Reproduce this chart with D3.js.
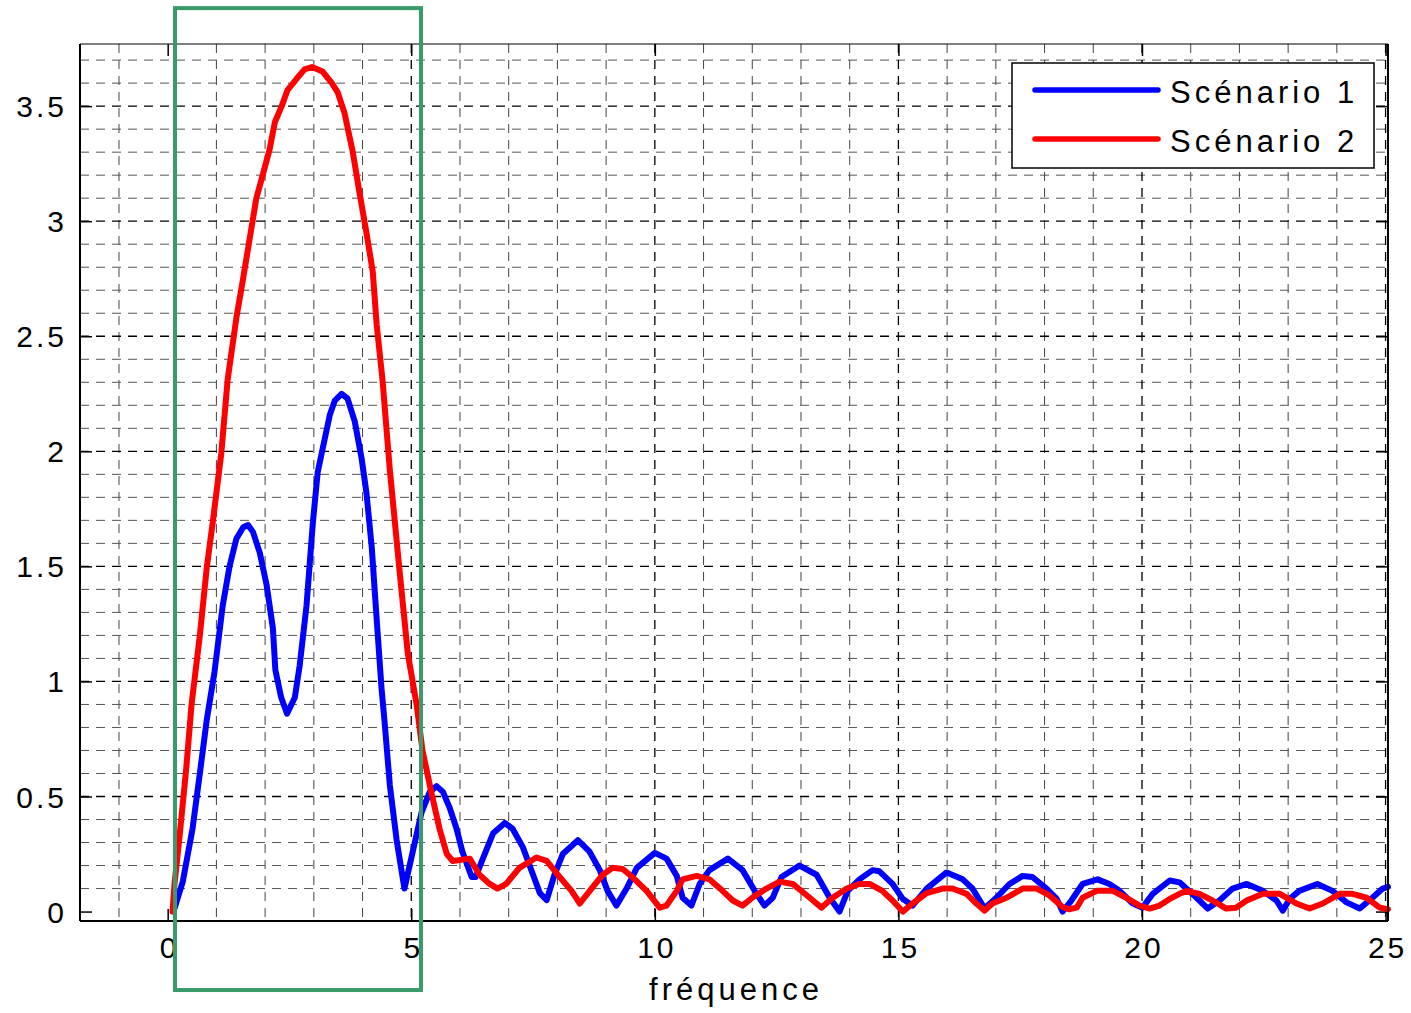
<!DOCTYPE html>
<html>
<head>
<meta charset="utf-8">
<script src="https://cdn.jsdelivr.net/npm/d3@7/dist/d3.min.js"></script>
<style>
  body { margin: 0; background: #fff; }
  text { font-family: "Liberation Sans", Arial, Helvetica, sans-serif; fill: #000; }
</style>
</head>
<body>
<div id="chart"></div>
<script>
// Scenario 1 (blue)
const freq1 = [0.12,0.31,0.51,0.66,0.8,0.96,1.13,1.27,1.41,1.55,1.65,1.75,1.89,2.03,2.16,2.21,2.33,2.45,2.61,2.71,2.85,2.98,3.08,3.19,3.33,3.43,3.57,3.69,3.84,3.98,4.08,4.19,4.29,4.39,4.45,4.56,4.7,4.86,5.03,5.21,5.38,5.52,5.65,5.79,5.93,6.05,6.24,6.32,6.47,6.68,6.92,7.08,7.29,7.5,7.64,7.78,7.94,8.11,8.42,8.66,8.87,9.03,9.21,9.42,9.63,10.0,10.24,10.45,10.57,10.75,10.92,11.12,11.5,11.8,12.05,12.25,12.42,12.6,12.97,13.32,13.59,13.79,13.96,14.2,14.47,14.61,14.88,15.09,15.29,15.58,15.99,16.32,16.52,16.77,17.01,17.28,17.55,17.75,18.04,18.25,18.37,18.55,18.78,19.09,19.33,19.54,19.81,20.01,20.22,20.57,20.77,21.12,21.35,21.59,21.86,22.15,22.48,22.76,22.89,23.03,23.23,23.6,23.91,24.2,24.47,24.73,24.94,25.05];
const amp1 = [0,0.13,0.36,0.6,0.83,1.04,1.33,1.5,1.62,1.67,1.68,1.65,1.56,1.42,1.23,1.05,0.93,0.86,0.93,1.07,1.33,1.69,1.91,2.02,2.16,2.22,2.25,2.23,2.13,1.97,1.82,1.58,1.27,0.97,0.83,0.55,0.31,0.1,0.26,0.43,0.52,0.545,0.52,0.45,0.36,0.26,0.15,0.15,0.23,0.34,0.385,0.36,0.28,0.16,0.08,0.05,0.16,0.25,0.31,0.26,0.18,0.09,0.026,0.1,0.19,0.255,0.23,0.155,0.06,0.026,0.12,0.18,0.23,0.18,0.09,0.026,0.06,0.15,0.2,0.16,0.06,0,0.09,0.14,0.18,0.175,0.12,0.055,0.026,0.1,0.17,0.14,0.1,0.013,0.06,0.12,0.155,0.15,0.1,0.055,0,0.048,0.12,0.14,0.12,0.09,0.035,0.017,0.077,0.135,0.127,0.06,0.013,0.048,0.1,0.12,0.09,0.048,0.004,0.055,0.09,0.12,0.09,0.04,0.013,0.06,0.1,0.107];

// Scenario 2 (red)
const freq2 = [0.1,0.14,0.25,0.38,0.49,0.66,0.8,0.93,1.1,1.23,1.41,1.54,1.68,1.82,1.95,2.09,2.2,2.34,2.46,2.65,2.81,2.96,3.18,3.37,3.49,3.63,3.8,3.94,4.08,4.21,4.29,4.41,4.56,4.76,4.93,5.11,5.23,5.42,5.58,5.73,5.85,6.2,6.4,6.61,6.77,6.95,7.22,7.57,7.78,8.05,8.29,8.46,8.7,8.93,9.13,9.34,9.54,9.83,10.1,10.24,10.45,10.57,10.86,11.12,11.39,11.6,11.8,12.0,12.29,12.56,12.83,13.18,13.42,13.65,13.94,14.2,14.41,14.67,14.88,15.09,15.29,15.58,15.91,16.11,16.4,16.6,16.77,16.93,17.22,17.55,17.84,18.1,18.37,18.5,18.66,18.78,19.07,19.4,19.68,19.95,20.16,20.36,20.57,20.77,20.92,21.18,21.45,21.73,21.93,22.15,22.48,22.83,23.17,23.44,23.71,24.06,24.32,24.61,24.88,25.05];
const amp2 = [0,0.12,0.34,0.62,0.9,1.2,1.49,1.7,1.99,2.31,2.58,2.74,2.92,3.1,3.2,3.31,3.43,3.5,3.57,3.62,3.66,3.67,3.65,3.6,3.56,3.47,3.3,3.12,2.95,2.78,2.55,2.31,1.92,1.48,1.12,0.9,0.7,0.51,0.36,0.25,0.22,0.23,0.16,0.12,0.1,0.12,0.19,0.235,0.22,0.15,0.09,0.035,0.1,0.16,0.19,0.185,0.15,0.09,0.017,0.026,0.09,0.14,0.155,0.14,0.09,0.048,0.026,0.06,0.1,0.13,0.12,0.06,0.017,0.06,0.1,0.12,0.12,0.09,0.048,0,0.035,0.08,0.1,0.1,0.077,0.035,0.004,0.035,0.06,0.1,0.1,0.07,0.02,0.01,0.017,0.06,0.09,0.09,0.06,0.026,0.013,0.026,0.055,0.077,0.09,0.077,0.048,0.013,0.017,0.048,0.077,0.077,0.035,0.013,0.035,0.077,0.077,0.06,0.017,0.01];

const seriesNames = ['Scénario 1', 'Scénario 2'];
const seriesColors = ['#0000ff', '#ff0000'];
const xTicks = [0, 5, 10, 15, 20, 25];
const yTicks = [0, 0.5, 1, 1.5, 2, 2.5, 3, 3.5];
const xLabel = 'fréquence';
// highlighted band (green frame), in data units
const bandFreq = [0.15, 5.2];
const bandAmp = [-0.341, 3.926];

const margin = {top: 44, right: 23, bottom: 92, left: 80};
const W = 1411, H = 1013;
const width = W - margin.left - margin.right;
const height = H - margin.top - margin.bottom;

const svg = d3.select('#chart').append('svg')
    .attr('width', W).attr('height', H);
const g = svg.append('g')
    .attr('transform', `translate(${margin.left},${margin.top})`);

const x = d3.scaleLinear().domain([-1.8, 25.05]).range([0, width]);
const y = d3.scaleLinear().domain([-0.041, 3.77]).range([height, 0]);

// grid: minor every 1 on x, every 0.1 on y; major at the ticks (none at 0)
const xMinor = d3.range(-1, 26).filter(v => v % 5 !== 0);
const yMinor = d3.range(1, 38).map(v => v / 10).filter(v => Math.round(v * 10) % 5 !== 0);
const xMajor = xTicks.filter(v => v !== 0);
const yMajor = yTicks.filter(v => v !== 0);

const grid = g.append('g').attr('class', 'grid');
grid.selectAll('.xminor').data(xMinor).enter().append('line')
    .attr('x1', d => x(d)).attr('x2', d => x(d)).attr('y1', 0).attr('y2', height)
    .attr('stroke', '#444').attr('stroke-width', 1).attr('stroke-dasharray', '9,7');
grid.selectAll('.yminor').data(yMinor).enter().append('line')
    .attr('y1', d => y(d)).attr('y2', d => y(d)).attr('x1', 0).attr('x2', width)
    .attr('stroke', '#555').attr('stroke-width', 1).attr('stroke-dasharray', '9,7');
grid.selectAll('.xmajor').data(xMajor).enter().append('line')
    .attr('x1', d => x(d)).attr('x2', d => x(d)).attr('y1', 0).attr('y2', height)
    .attr('stroke', '#000').attr('stroke-width', 1.3).attr('stroke-dasharray', '9,7');
grid.selectAll('.ymajor').data(yMajor).enter().append('line')
    .attr('y1', d => y(d)).attr('y2', d => y(d)).attr('x1', 0).attr('x2', width)
    .attr('stroke', '#000').attr('stroke-width', 1.3).attr('stroke-dasharray', '9,7');

// axes with inward ticks on all four sides
const tickLen = 12;
const fmt = d3.format('~g');
const axB = g.append('g').attr('transform', `translate(0,${height})`)
    .call(d3.axisBottom(x).tickValues(xTicks).tickSize(-tickLen).tickSizeOuter(0).tickFormat(fmt));
const axL = g.append('g')
    .call(d3.axisLeft(y).tickValues(yTicks).tickSize(-tickLen).tickSizeOuter(0).tickFormat(fmt));
g.append('g')
    .call(d3.axisTop(x).tickValues(xTicks).tickSize(-tickLen).tickSizeOuter(0).tickFormat(''));
g.append('g').attr('transform', `translate(${width},0)`)
    .call(d3.axisRight(y).tickValues(yTicks).tickSize(-tickLen).tickSizeOuter(0).tickFormat(''));
g.selectAll('.domain').remove();
g.selectAll('.tick line').attr('stroke', '#000').attr('stroke-width', 1.5);

const ls = 3;
axB.selectAll('.tick text')
    .attr('y', 37).attr('dy', null).attr('dx', ls / 2)
    .style('font-size', '30px').style('letter-spacing', ls + 'px');
axL.selectAll('.tick text')
    .attr('x', -16 + ls).attr('dy', '10.5px')
    .style('font-size', '30px').style('letter-spacing', ls + 'px');
g.selectAll('.tick text').attr('font-family', null).attr('font-size', null);

// curves
const line = d3.line().x(d => x(d[0])).y(d => y(d[1]));
const series = [
  d3.zip(freq1, amp1),
  d3.zip(freq2, amp2)
];
g.selectAll('.curve').data(series).enter().append('path')
    .attr('class', 'curve')
    .attr('d', line)
    .attr('fill', 'none')
    .attr('stroke', (d, i) => seriesColors[i])
    .attr('stroke-width', 6)
    .attr('stroke-linejoin', 'round')
    .attr('stroke-linecap', 'round');

// axes box
g.append('line').attr('x1', 0).attr('x2', width).attr('y1', 0).attr('y2', 0)
    .attr('stroke', '#000').attr('stroke-width', 1.2);
g.append('line').attr('x1', 0).attr('x2', width).attr('y1', height).attr('y2', height)
    .attr('stroke', '#000').attr('stroke-width', 2.2);
g.append('line').attr('x1', 0).attr('x2', 0).attr('y1', 0).attr('y2', height)
    .attr('stroke', '#000').attr('stroke-width', 2);
g.append('line').attr('x1', width).attr('x2', width).attr('y1', 0).attr('y2', height)
    .attr('stroke', '#000').attr('stroke-width', 2);

// x label
g.append('text')
    .attr('x', width / 2 + 2).attr('y', height + 79)
    .attr('text-anchor', 'middle')
    .style('font-size', '31px').style('letter-spacing', '4px')
    .text(xLabel);

// legend
const legend = g.append('g').attr('transform', `translate(${1012 - margin.left},${63 - margin.top})`);
legend.append('rect')
    .attr('width', 362).attr('height', 105)
    .attr('fill', '#fff').attr('stroke', '#000').attr('stroke-width', 1.5);
const items = legend.selectAll('.item').data(seriesNames).enter().append('g')
    .attr('transform', (d, i) => `translate(0,${27 + i * 49})`);
items.append('line')
    .attr('x1', 23).attr('x2', 146).attr('y1', 0).attr('y2', 0)
    .attr('stroke', (d, i) => seriesColors[i]).attr('stroke-width', 5.5)
    .attr('stroke-linecap', 'round');
items.append('text')
    .attr('x', 158).attr('y', 13)
    .style('font-size', '31px').style('letter-spacing', '4px')
    .text(d => d);

// green highlight frame
g.append('rect')
    .attr('x', x(bandFreq[0]))
    .attr('y', y(bandAmp[1]))
    .attr('width', x(bandFreq[1]) - x(bandFreq[0]))
    .attr('height', y(bandAmp[0]) - y(bandAmp[1]))
    .attr('fill', 'none')
    .attr('stroke', '#3a9b6a')
    .attr('stroke-width', 4);
</script>
</body>
</html>
